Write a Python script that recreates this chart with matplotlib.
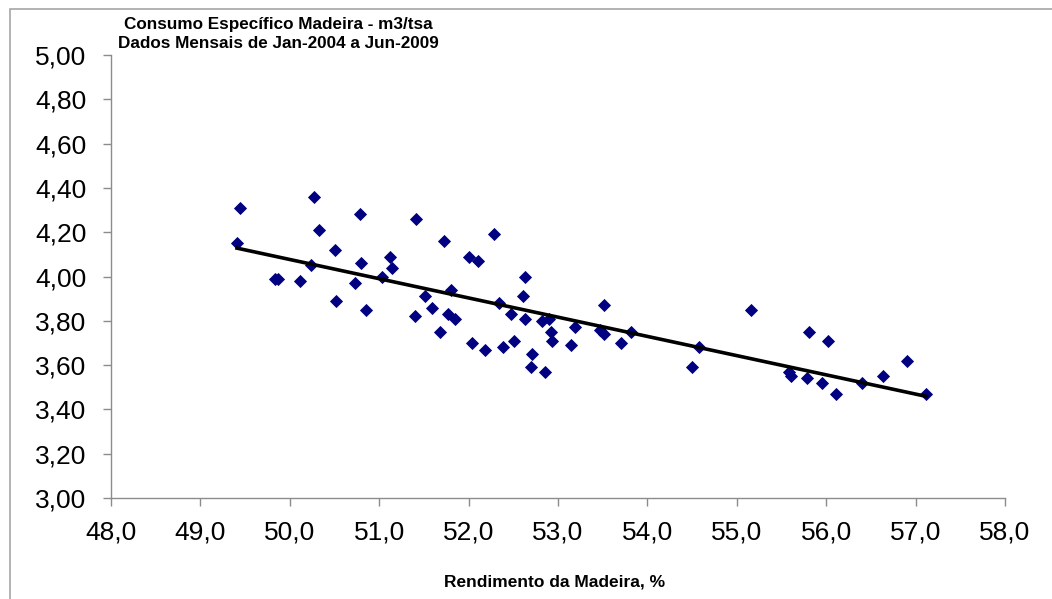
import numpy as np
import matplotlib
matplotlib.use("Agg")
import matplotlib.pyplot as plt
from matplotlib.patches import Rectangle
from matplotlib.ticker import FuncFormatter, MultipleLocator

# Rendimento da Madeira (%)
rendimento = [
    49.44, 49.41, 50.27, 50.79, 51.41, 50.33, 50.50, 51.12, 50.24, 50.80,
    51.14, 51.03, 49.83, 49.87, 50.11, 50.73, 50.52, 50.85, 51.40,
    52.28, 51.72, 52.01, 52.10, 52.63, 51.80, 51.51, 52.61, 52.34, 51.59,
    52.47, 52.63, 52.82, 52.90, 51.77, 51.85, 52.92, 52.93, 51.68, 52.04,
    52.18, 52.39, 52.51, 52.71, 52.70, 52.85,
    53.51, 53.19, 53.47, 53.51, 53.82, 53.15, 53.70,
    55.16, 54.58, 54.50, 55.81, 56.02, 55.58, 55.61, 55.78, 55.95, 56.11,
    56.40, 56.63, 56.90, 57.12,
]
# Consumo específico de madeira (m3/tsa)
consumo = [
    4.31, 4.15, 4.36, 4.28, 4.26, 4.21, 4.12, 4.09, 4.05, 4.06,
    4.04, 4.00, 3.99, 3.99, 3.98, 3.97, 3.89, 3.85, 3.82,
    4.19, 4.16, 4.09, 4.07, 4.00, 3.94, 3.91, 3.91, 3.88, 3.86,
    3.83, 3.81, 3.80, 3.81, 3.83, 3.81, 3.75, 3.71, 3.75, 3.70,
    3.67, 3.68, 3.71, 3.65, 3.59, 3.57,
    3.87, 3.77, 3.76, 3.74, 3.75, 3.69, 3.70,
    3.85, 3.68, 3.59, 3.75, 3.71, 3.57, 3.55, 3.54, 3.52, 3.47,
    3.52, 3.55, 3.62, 3.47,
]

title_lines = ["Consumo Específico Madeira - m3/tsa", "Dados Mensais de Jan-2004 a Jun-2009"]
xlabel = "Rendimento da Madeira, %"

plt.rcParams['font.family'] = ['Liberation Sans', 'DejaVu Sans']

W, H = 1052, 599
fig = plt.figure(figsize=(W / 100, H / 100), dpi=100)
fig.patch.set_facecolor("white")

# outer chart border
fig.patches.append(Rectangle((10 / W, -0.1), 1.2, 1 - 9 / H + 0.1, transform=fig.transFigure,
                             fill=False, edgecolor="#a6a6a6", linewidth=1.2))

ax = fig.add_axes([111 / W, 1 - 498 / H, (1005 - 111) / W, (498 - 55) / H])
ax.set_facecolor("white")

x = np.array(rendimento)
y = np.array(consumo)
ax.plot(x, y, linestyle="none", marker="D", markersize=6.2, color="#000080",
        markeredgecolor="#000080", markeredgewidth=0.6, zorder=3)

# linear trendline
coef = np.polyfit(x, y, 1)
xs = np.array([x.min(), x.max()])
ax.plot(xs, np.polyval(coef, xs), color="black", linewidth=2.6, zorder=4)

ax.set_xlim(48, 58)
ax.set_ylim(3.0, 5.0)
ax.xaxis.set_major_locator(MultipleLocator(1))
ax.yaxis.set_major_locator(MultipleLocator(0.2))
ax.xaxis.set_major_formatter(FuncFormatter(lambda v, p: f"{v:.1f}".replace(".", ",")))
ax.yaxis.set_major_formatter(FuncFormatter(lambda v, p: f"{v:.2f}".replace(".", ",")))

for s in ["top", "right"]:
    ax.spines[s].set_visible(False)
for s in ["left", "bottom"]:
    ax.spines[s].set_color("#8c8c8c")
    ax.spines[s].set_linewidth(1.0)

ax.tick_params(axis="both", direction="out", length=5.5, width=1.0, color="#8c8c8c",
               labelsize=19, labelcolor="black")
ax.tick_params(axis="y", pad=12)
ax.tick_params(axis="x", pad=11)

fig.text(278 / W, 1 - 24 / H, title_lines[0], ha="center", va="center",
         fontsize=12.3, fontweight="bold")
fig.text(278 / W, 1 - 44 / H, title_lines[1], ha="center", va="center",
         fontsize=12.3, fontweight="bold")
fig.text(555 / W, 1 - 582 / H, xlabel, ha="center", va="center",
         fontsize=12.5, fontweight="bold")

fig.savefig("out.png", dpi=100, facecolor="white")
